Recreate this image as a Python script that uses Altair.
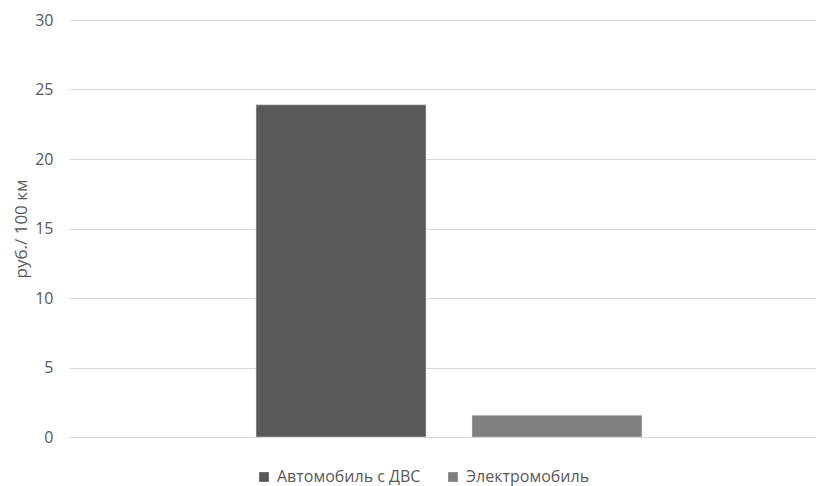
import altair as alt
import pandas as pd

series = ["Автомобиль с ДВС", "Электромобиль"]
values = [23.9, 1.56]
colors = ["#595959", "#7f7f7f"]

df = pd.DataFrame({"series": series, "value": values})

FONT = "Open Sans"
TXT = "#595959"

chart = alt.Chart(df).mark_bar(stroke="#d9d9d9", strokeWidth=0.5).encode(
    x=alt.X("series:N", sort=series, axis=None,
            scale=alt.Scale(paddingInner=0.213, paddingOuter=0.836, align=0.518)),
    y=alt.Y("value:Q", title="руб./ 100 км",
            scale=alt.Scale(domain=[0, 30]),
            axis=alt.Axis(values=[0, 5, 10, 15, 20, 25, 30], grid=True, ticks=False,
                          domain=False, labelPadding=16, titlePadding=4)),
    color=alt.Color("series:N", sort=series,
                    scale=alt.Scale(domain=series, range=colors),
                    legend=alt.Legend(title=None, orient="none", direction="horizontal",
                                      legendX=187, legendY=449, symbolType="square",
                                      symbolSize=95, symbolStrokeWidth=0,
                                      columnPadding=24, labelOffset=5)),
).properties(
    width=747, height=417,
    autosize=alt.AutoSizeParams(type="none"),
    padding={"left": 61, "top": 12, "right": 0, "bottom": 49},
).configure_view(stroke=None).configure_axis(
    labelFont=FONT, titleFont=FONT, labelColor=TXT, titleColor=TXT,
    labelFontSize=16, titleFontSize=17, titleFontWeight="normal",
    gridColor="#d9d9d9", gridWidth=1,
).configure_legend(
    labelFont=FONT, labelColor=TXT, labelFontSize=16,
)

chart.save("out.html", embed_options={"renderer": "svg", "actions": False})
